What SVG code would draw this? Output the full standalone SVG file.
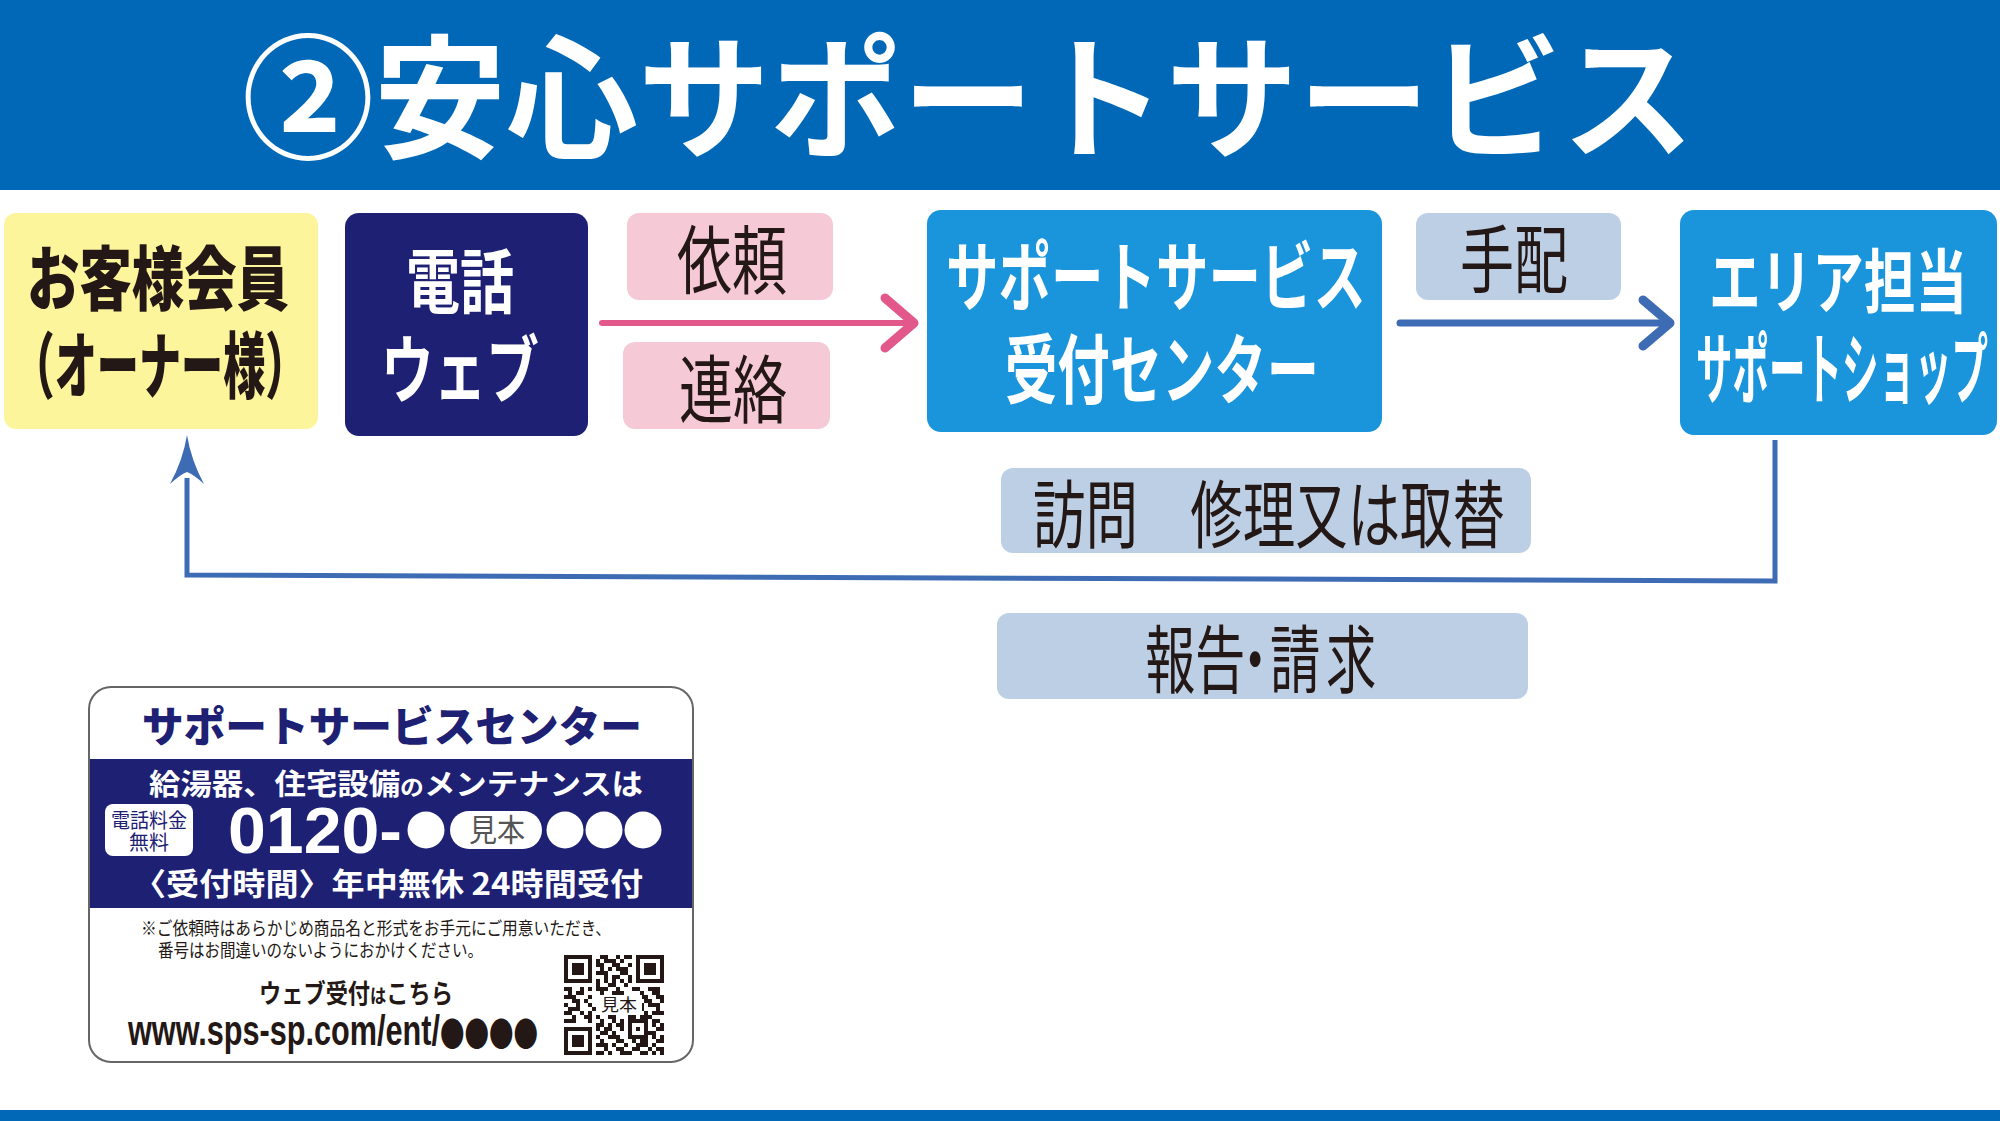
<svg xmlns="http://www.w3.org/2000/svg" width="2000" height="1121" viewBox="0 0 2000 1121">
<style>
.jp{font-family:"Noto Sans CJK JP","Noto Sans CJK SC",sans-serif}
.en{font-family:"Liberation Sans","Noto Sans",sans-serif}
.b{font-weight:700}
.x{font-weight:900}
.r{font-weight:400}
.w{fill:#ffffff}
.k{fill:#231815}
.nv{fill:#1d2073}
.pink{fill:#f6c9d7}
.steel{fill:#bccfe4}
.sky{fill:#1a95dc}
</style>
<rect x="0" y="0" width="2000" height="190" fill="#0068b7"/>
<rect x="0" y="1110" width="2000" height="11" fill="#0068b7"/>
<text class="jp b w" x="242" y="148" font-size="134" textLength="1452" lengthAdjust="spacingAndGlyphs">②安心サポートサービス</text>

<g id="connectors" fill="none" stroke-linecap="round" stroke-linejoin="round">
  <line x1="602" y1="323" x2="910" y2="323" stroke="#e3588a" stroke-width="6"/>
  <polyline points="885,298 914,323 885,348" stroke="#e3588a" stroke-width="9"/>
  <line x1="1400" y1="323" x2="1664" y2="323" stroke="#3e6cb4" stroke-width="7"/>
  <polyline points="1643,300 1670,323 1643,346" stroke="#3e6cb4" stroke-width="9"/>
  <path d="M1775 440 V581 L187 575 V478" stroke="#3e6cb4" stroke-width="5" stroke-linecap="butt" stroke-linejoin="miter"/>
  <path d="M187 435 Q191 460 204 484 Q193 474 187 472 Q181 474 170 484 Q183 460 187 435 Z" fill="#3e6cb4" stroke="none"/>
</g>

<g id="node-owner">
  <rect x="4" y="213" width="314" height="216" rx="12" fill="#fdf59b"/>
  <text class="jp x k" x="158" y="305" font-size="70" text-anchor="middle" textLength="262" lengthAdjust="spacingAndGlyphs">お客様会員</text>
  <text class="jp x k" x="160" y="392" font-size="72" text-anchor="middle" textLength="295" lengthAdjust="spacingAndGlyphs">（オーナー様）</text>
</g>
<g id="node-tel-web">
  <rect x="345" y="213" width="243" height="223" rx="14" class="nv"/>
  <text class="jp b w" x="460" y="308" font-size="70" text-anchor="middle" textLength="108" lengthAdjust="spacingAndGlyphs">電話</text>
  <text class="jp b w" x="460" y="397" font-size="74" text-anchor="middle" textLength="158" lengthAdjust="spacingAndGlyphs">ウェブ</text>
</g>
<g id="label-irai">
  <rect x="627" y="213" width="206" height="87" rx="12" class="pink"/>
  <text class="jp r k" x="732" y="288" font-size="75" text-anchor="middle" textLength="110" lengthAdjust="spacingAndGlyphs">依頼</text>
</g>
<g id="label-renraku">
  <rect x="623" y="342" width="207" height="87" rx="12" class="pink"/>
  <text class="jp r k" x="733" y="417" font-size="74" text-anchor="middle" textLength="108" lengthAdjust="spacingAndGlyphs">連絡</text>
</g>
<g id="node-center">
  <rect x="927" y="210" width="455" height="222" rx="14" class="sky"/>
  <text class="jp b w" x="1156" y="305" font-size="76" text-anchor="middle" textLength="420" lengthAdjust="spacingAndGlyphs">サポートサービス</text>
  <text class="jp b w" x="1162" y="398" font-size="76" text-anchor="middle" textLength="314" lengthAdjust="spacingAndGlyphs">受付センター</text>
</g>
<g id="label-tehai">
  <rect x="1416" y="213" width="205" height="87" rx="12" class="steel"/>
  <text class="jp r k" x="1514" y="287" font-size="74" text-anchor="middle" textLength="108" lengthAdjust="spacingAndGlyphs">手配</text>
</g>
<g id="node-shop">
  <rect x="1680" y="210" width="317" height="225" rx="14" class="sky"/>
  <text class="jp b w" x="1838" y="308" font-size="70" text-anchor="middle" textLength="258" lengthAdjust="spacingAndGlyphs">エリア担当</text>
  <text class="jp b w" x="1842" y="398" font-size="78" text-anchor="middle" textLength="292" lengthAdjust="spacingAndGlyphs">サポートショップ</text>
</g>
<g id="label-visit">
  <rect x="1001" y="468" width="530" height="85" rx="12" class="steel"/>
  <text class="jp r k" x="1269" y="542" font-size="74" text-anchor="middle" textLength="472" lengthAdjust="spacingAndGlyphs">訪問　修理又は取替</text>
</g>
<g id="label-report">
  <rect x="997" y="613" width="531" height="86" rx="12" class="steel"/>
  <text class="jp r k" transform="scale(0.68 1)" x="1683.8 1757.4 1808.8 1867.6 1950" y="687" font-size="74">報告・請求</text>
</g>

<g id="card">
  <rect x="89" y="687" width="604" height="375" rx="22" fill="#ffffff"/>
  <rect x="89" y="759" width="604" height="149" class="nv"/>
  <rect x="89" y="687" width="604" height="375" rx="22" fill="none" stroke="#666666" stroke-width="2"/>
  <text class="jp x nv" x="392" y="742" font-size="42" text-anchor="middle" textLength="500" lengthAdjust="spacingAndGlyphs">サポートサービスセンター</text>
  <text class="jp b w" x="396" y="795" font-size="29" text-anchor="middle" textLength="494" lengthAdjust="spacingAndGlyphs">給湯器、住宅設備<tspan font-size="22">の</tspan>メンテナンスは</text>
  <rect x="105" y="804" width="88" height="52" rx="8" fill="#ffffff"/>
  <text class="jp r nv" x="149" y="828" font-size="20" text-anchor="middle" textLength="76" lengthAdjust="spacingAndGlyphs">電話料金</text>
  <text class="jp r nv" x="149" y="850" font-size="20" text-anchor="middle" textLength="40" lengthAdjust="spacingAndGlyphs">無料</text>
  <text class="en b w" x="228" y="853" font-size="64" textLength="174" lengthAdjust="spacingAndGlyphs">0120-</text>
  <circle cx="426" cy="830" r="18.5" fill="#ffffff"/>
  <rect x="450" y="811" width="92" height="38" rx="19" fill="#ffffff"/>
  <text class="jp r" x="497" y="841" font-size="31" text-anchor="middle" fill="#555555" textLength="56" lengthAdjust="spacingAndGlyphs">見本</text>
  <circle cx="565" cy="830" r="18.5" fill="#ffffff"/>
  <circle cx="604" cy="830" r="18.5" fill="#ffffff"/>
  <circle cx="643" cy="830" r="18.5" fill="#ffffff"/>
  <text class="jp b w" x="388" y="895" font-size="31" text-anchor="middle" textLength="510" lengthAdjust="spacingAndGlyphs">〈受付時間〉年中無休 24時間受付</text>
  <text class="jp r k" x="141" y="935" font-size="18" textLength="470" lengthAdjust="spacingAndGlyphs">※ご依頼時はあらかじめ商品名と形式をお手元にご用意いただき、</text>
  <text class="jp r k" x="158" y="957" font-size="18" textLength="325" lengthAdjust="spacingAndGlyphs">番号はお間違いのないようにおかけください。</text>
  <text class="jp b k" x="356" y="1003" font-size="26" text-anchor="middle" textLength="194" lengthAdjust="spacingAndGlyphs">ウェブ受付<tspan font-size="19">は</tspan>こちら</text>
  <text class="en b k" x="128" y="1045" font-size="42" textLength="312" lengthAdjust="spacingAndGlyphs">www.sps-sp.com/ent/</text>
  <text class="jp r k" x="440" y="1047" font-size="34" textLength="98" lengthAdjust="spacingAndGlyphs">●●●●</text>
  <g id="qr" fill="#231815">
    <rect x="564" y="955" width="28" height="28"/><rect x="568" y="959" width="20" height="20" fill="#fff"/><rect x="572" y="963" width="12" height="12"/>
    <rect x="636" y="955" width="28" height="28"/><rect x="640" y="959" width="20" height="20" fill="#fff"/><rect x="644" y="963" width="12" height="12"/>
    <rect x="564" y="1027" width="28" height="28"/><rect x="568" y="1031" width="20" height="20" fill="#fff"/><rect x="572" y="1035" width="12" height="12"/>
    <path d="M600 955h8v4h-8zM616 955h4v4h-4zM624 955h8v4h-8zM596 959h4v4h-4zM604 959h12v4h-12zM620 959h4v4h-4zM596 963h8v4h-8zM612 963h8v4h-8zM628 963h4v4h-4zM600 967h4v4h-4zM608 967h4v4h-4zM616 967h12v4h-12zM596 971h12v4h-12zM620 971h8v4h-8zM604 975h4v4h-4zM612 975h8v4h-8zM628 975h4v4h-4zM596 979h4v4h-4zM604 979h4v4h-4zM612 979h4v4h-4zM620 979h4v4h-4zM628 979h4v4h-4zM596 983h4v4h-4zM608 983h8v4h-8zM624 983h4v4h-4zM564 987h8v4h-8zM580 987h4v4h-4zM588 987h4v4h-4zM596 987h12v4h-12zM616 987h4v4h-4zM632 987h8v4h-8zM648 987h12v4h-12zM568 991h4v4h-4zM576 991h8v4h-8zM600 991h4v4h-4zM612 991h12v4h-12zM640 991h4v4h-4zM652 991h8v4h-8zM564 995h12v4h-12zM588 995h4v4h-4zM596 995h4v4h-4zM620 995h8v4h-8zM636 995h12v4h-12zM656 995h8v4h-8zM572 999h8v4h-8zM584 999h4v4h-4zM604 999h12v4h-12zM632 999h4v4h-4zM644 999h8v4h-8zM660 999h4v4h-4zM564 1003h4v4h-4zM576 1003h4v4h-4zM588 1003h4v4h-4zM596 1003h8v4h-8zM612 1003h4v4h-4zM624 1003h8v4h-8zM640 1003h4v4h-4zM648 1003h12v4h-12zM568 1007h12v4h-12zM592 1007h8v4h-8zM608 1007h4v4h-4zM620 1007h4v4h-4zM636 1007h8v4h-8zM656 1007h4v4h-4zM564 1011h8v4h-8zM580 1011h4v4h-4zM588 1011h4v4h-4zM600 1011h8v4h-8zM616 1011h12v4h-12zM632 1011h4v4h-4zM644 1011h4v4h-4zM652 1011h12v4h-12zM572 1015h4v4h-4zM584 1015h8v4h-8zM596 1015h4v4h-4zM608 1015h8v4h-8zM628 1015h8v4h-8zM640 1015h12v4h-12zM564 1019h12v4h-12zM588 1019h4v4h-4zM600 1019h4v4h-4zM612 1019h4v4h-4zM620 1019h4v4h-4zM628 1019h20v4h-20zM652 1019h8v4h-8zM596 1023h8v4h-8zM608 1023h4v4h-4zM616 1023h8v4h-8zM628 1023h4v4h-4zM644 1023h4v4h-4zM652 1023h4v4h-4zM660 1023h4v4h-4zM596 1027h4v4h-4zM604 1027h8v4h-8zM620 1027h4v4h-4zM628 1027h4v4h-4zM636 1027h4v4h-4zM644 1027h4v4h-4zM656 1027h8v4h-8zM600 1031h8v4h-8zM612 1031h4v4h-4zM628 1031h4v4h-4zM644 1031h12v4h-12zM596 1035h4v4h-4zM608 1035h12v4h-12zM628 1035h20v4h-20zM652 1035h4v4h-4zM660 1035h4v4h-4zM600 1039h4v4h-4zM616 1039h8v4h-8zM632 1039h4v4h-4zM640 1039h8v4h-8zM656 1039h8v4h-8zM596 1043h12v4h-12zM612 1043h4v4h-4zM624 1043h4v4h-4zM636 1043h12v4h-12zM652 1043h4v4h-4zM604 1047h4v4h-4zM616 1047h8v4h-8zM632 1047h8v4h-8zM648 1047h4v4h-4zM656 1047h8v4h-8zM596 1051h8v4h-8zM608 1051h4v4h-4zM620 1051h12v4h-12zM640 1051h8v4h-8zM652 1051h4v4h-4zM660 1051h4v4h-4z"/>
    <rect x="596" y="995" width="46" height="20" fill="#ffffff"/>
    <text class="jp r k" x="619" y="1011" font-size="17" text-anchor="middle" textLength="36" lengthAdjust="spacingAndGlyphs">見本</text>
  </g>
</g>
</svg>
